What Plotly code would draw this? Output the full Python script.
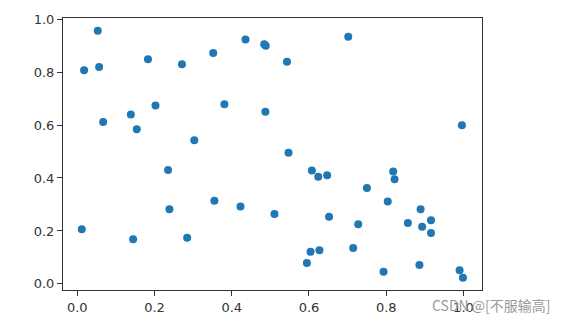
import plotly.graph_objects as go

xs = [0.0176, 0.053, 0.0565, 0.067, 0.1386, 0.154, 0.183, 0.2025, 0.235, 0.271,
      0.303, 0.352, 0.381, 0.4356, 0.484, 0.488, 0.487, 0.543, 0.547,
      0.7016, 0.996,
      0.0116, 0.1446, 0.2386, 0.2845, 0.355, 0.4226, 0.5106,
      0.6075, 0.624, 0.647, 0.818, 0.8216, 0.750, 0.804, 0.889, 0.652, 0.7275,
      0.856, 0.916, 0.893, 0.916, 0.604, 0.627, 0.7145, 0.5945, 0.793, 0.886,
      0.990, 0.9987]
ys = [0.807, 0.956, 0.819, 0.611, 0.640, 0.584, 0.848, 0.674, 0.430, 0.829,
      0.542, 0.872, 0.678, 0.923, 0.905, 0.899, 0.650, 0.839, 0.495,
      0.933, 0.599,
      0.206, 0.169, 0.282, 0.174, 0.314, 0.292, 0.264,
      0.428, 0.405, 0.410, 0.424, 0.395, 0.362, 0.311, 0.282, 0.254, 0.225,
      0.230, 0.240, 0.216, 0.192, 0.121, 0.127, 0.136, 0.079, 0.046, 0.071,
      0.052, 0.023]

tickvals = [0.0, 0.2, 0.4, 0.6, 0.8, 1.0]
ticktext = ["0.0", "0.2", "0.4", "0.6", "0.8", "1.0"]

fig = go.Figure(go.Scatter(x=xs, y=ys, mode="markers",
                           marker=dict(color="#1f77b4", size=8, line=dict(width=0))))

axis_common = dict(showgrid=False, zeroline=False, showline=True, mirror=True,
                   linecolor="#333333", linewidth=1, ticks="outside", ticklen=5,
                   tickwidth=1, tickcolor="#333333", tickvals=tickvals, ticktext=ticktext,
                   tickfont=dict(family="DejaVu Sans", size=13, color="#333333"))

fig.update_layout(
    width=570, height=328,
    margin=dict(l=63, r=88, t=18, b=38),
    paper_bgcolor="white", plot_bgcolor="white",
    showlegend=False,
    xaxis=dict(range=[-0.037, 1.048], **axis_common),
    yaxis=dict(range=[-0.023, 1.004], **axis_common),
)

fig.add_annotation(text="CSDN @[不服输高]", xref="paper", yref="paper",
                   x=1.17, y=-0.056, xanchor="right", yanchor="middle", showarrow=False,
                   font=dict(family="Noto Sans CJK SC", size=14, color="#999999"))

fig.write_html("out.html")
